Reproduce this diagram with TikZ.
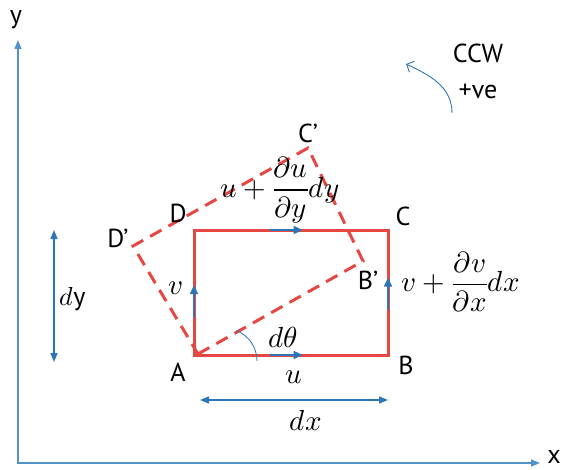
\documentclass[tikz,border=0pt]{standalone}
\usepackage{fontspec}
\usepackage{unicode-math}
\setmainfont{PT Sans}
\setmathfont{Latin Modern Math}
\usetikzlibrary{arrows.meta,calc}

\definecolor{edgered}{RGB}{229,72,66}
\definecolor{arrowblue}{RGB}{46,117,182}
\definecolor{axisblue}{RGB}{84,146,204}

\tikzset{
  elem/.style={edgered, line width=3pt},
  shifted/.style={edgered, line width=3pt, dash pattern=on 13pt off 8pt},
  vel/.style={arrowblue, line width=1.5pt, -{Triangle[length=9pt,width=8pt]}},
  dimarrow/.style={arrowblue, line width=1.3pt,
    {Triangle[length=9pt,width=7pt]}-{Triangle[length=9pt,width=7pt]}},
  axis/.style={axisblue, line width=1.3pt,
    {Triangle[length=9pt,width=7pt]}-{Triangle[length=9pt,width=7pt]}},
  lbl/.style={font=\fontsize{26}{29}\selectfont, inner sep=0pt},
  mlbl/.style={font=\fontsize{29}{33}\selectfont, inner sep=0pt},
}

\begin{document}
\begin{tikzpicture}[x=1pt,y=-1pt]
  \useasboundingbox (0,0) rectangle (564,470);

  % axes
  \coordinate (Ytop) at (18,40);
  \coordinate (O) at (18,463);
  \coordinate (Xend) at (540,463);
  \draw[axis] (Ytop) -- (O) -- (Xend);
  \node[lbl] (ylab) at (16,20) {y};
  \node[lbl, anchor=east] (xlab) at (561,457) {x};

  % fluid element
  \coordinate (A) at (194,355);
  \coordinate (B) at (388,355);
  \coordinate (C) at (388,230);
  \coordinate (D) at (194,230);
  \draw[elem] (A) -- (B) -- (C) -- (D) -- cycle;

  % deformed element
  \coordinate (A1) at (198,354);
  \coordinate (B1) at (363,261);
  \coordinate (C1) at (308,148);
  \coordinate (D1) at (133,246);
  \draw[shifted] (A1) -- (B1) -- (C1) -- (D1) -- cycle;

  % velocities on the edges
  \draw[vel] ($(A)!0.39!(B)$) -- ($(A)!0.56!(B)$);
  \draw[vel] ($(D)!0.39!(C)$) -- ($(D)!0.56!(C)$);
  \draw[vel] ($(A)!0.30!(D)$) -- ($(A)!0.56!(D)$);
  \draw[vel] ($(B)!0.36!(C)$) -- ($(B)!0.62!(C)$);

  % corner labels
  \node[lbl] (labA) at (178,372) {A};
  \node[lbl] (labB) at (406,365) {B};
  \node[lbl] (labC) at (403,216) {C};
  \node[lbl] (labD) at (178,213) {D};
  \node[lbl] (labD1) at (118,238) {D’};
  \node[lbl] (labC1) at (308,133) {C’};
  \node[lbl] (labB1) at (368,280) {B’};

  % velocity labels
  \node[mlbl] (uA) at (294,377) {$u$};
  \node[mlbl] (vA) at (176,288) {$v$};
  \node[mlbl] (uD) at (280,190) {$u+\dfrac{\partial u}{\partial y}dy$};
  \node[mlbl] (vB) at (461,282) {$v+\dfrac{\partial v}{\partial x}dx$};

  % rotation angle
  \coordinate (angS) at (257,361);
  \draw[arrowblue, line width=0.8pt] (angS) arc[start angle=0, end angle=-68, radius=33];
  \node[mlbl] (dth) at (283,337) {$d\theta$};

  % sizes
  \coordinate (dyT) at (54,230);
  \coordinate (dyB) at (54,362);
  \draw[dimarrow] (dyT) -- (dyB);
  \node[lbl, anchor=west] (dylab) at (59,299) {$d$y};
  \coordinate (dxL) at (200,400);
  \coordinate (dxR) at (388,400);
  \draw[dimarrow] (dxL) -- (dxR);
  \node[mlbl] (dxlab) at (306,421) {$dx$};

  % sign convention
  \coordinate (ccwS) at (452,113);
  \coordinate (ccwE) at (406,64);
  \draw[arrowblue, line width=0.9pt, -{Straight Barb[length=6pt,width=12pt]}]
    (ccwS) to[out=90, in=-25] (ccwE);
  \node[lbl] (ccw) at (478,53) {CCW};
  \node[lbl] (pve) at (478,91) {+ve};
\end{tikzpicture}
\end{document}
